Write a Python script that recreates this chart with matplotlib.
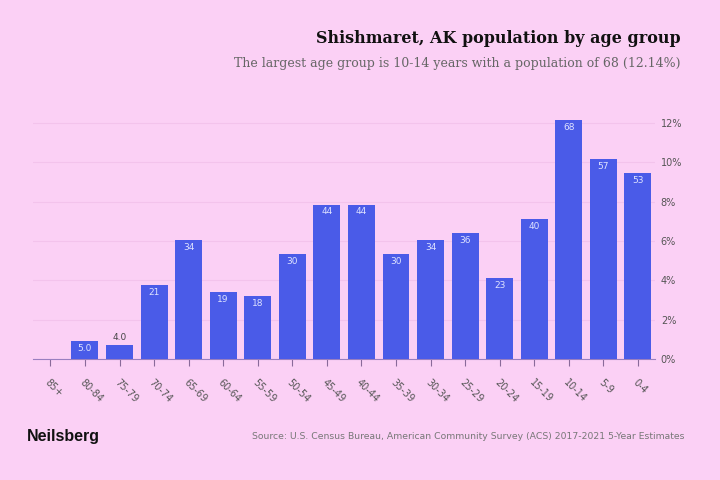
import matplotlib.pyplot as plt

# age groups, drawn right-to-left like the reference
age_groups = ['0-4', '5-9', '10-14', '15-19', '20-24', '25-29', '30-34', '35-39',
              '40-44', '45-49', '50-54', '55-59', '60-64', '65-69', '70-74',
              '75-79', '80-84', '85+']
population = [53, 57, 68, 40, 23, 36, 34, 30, 44, 44, 30, 18, 19, 34, 21, 4, 5, 0]
value_labels = ['53', '57', '68', '40', '23', '36', '34', '30', '44', '44', '30',
                '18', '19', '34', '21', '4.0', '5.0', '']
y_ticks = [0, 2, 4, 6, 8, 10, 12]

bg = '#fbd0f5'
bar_color = '#4a5be8'

total = sum(population)
share = [p / total * 100 for p in population]

fig = plt.figure(figsize=(7.2, 4.8), dpi=100, facecolor=bg)
ax = fig.add_axes([0.046, 0.252, 0.864, 0.508], facecolor=bg)

n = len(age_groups)
xs = [n - 1 - i for i in range(n)]  # 0-4 at the right end
ax.bar(xs, share, width=0.78, color=bar_color, zorder=3)

for x, s, lab in zip(xs, share, value_labels):
    if not lab:
        continue
    if s > 0.8:
        ax.text(x, s - 0.15, lab, ha='center', va='top', fontsize=6.5,
                color='#dfe3ff', zorder=4)
    else:
        ax.text(x, s + 0.15, lab, ha='center', va='bottom', fontsize=6.5,
                color='#444444', zorder=4)

ax.set_xlim(-0.5, n - 0.5)
ax.set_ylim(0, 12.4)
ax.yaxis.tick_right()
ax.set_yticks(y_ticks)
ax.set_yticklabels([f'{t}%' for t in y_ticks], fontsize=7, color='#555555')
ax.tick_params(axis='y', length=0, pad=4)
ax.set_xticks(xs)
ax.set_xticklabels(age_groups, rotation=-45, ha='left', rotation_mode='anchor',
                   fontsize=7, color='#555555')
ax.tick_params(axis='x', length=5, color='#8a6a9a', pad=8)
ax.grid(axis='y', color='#f3c3ec', linewidth=0.8, zorder=0)
for side in ['top', 'left', 'right']:
    ax.spines[side].set_visible(False)
ax.spines['bottom'].set_color('#9a7fc0')

fig.text(0.945, 0.92, 'Shishmaret, AK population by age group', ha='right',
         va='center', fontsize=11.5, fontweight='bold', family='DejaVu Serif',
         color='#111111')
fig.text(0.945, 0.868, 'The largest age group is 10-14 years with a population of 68 (12.14%)',
         ha='right', va='center', fontsize=9, family='DejaVu Serif', color='#666666')
fig.text(0.038, 0.09, 'Neilsberg', ha='left', va='center', fontsize=11.5,
         fontweight='bold', family='Liberation Sans', color='#111111')
fig.text(0.95, 0.09,
         'Source: U.S. Census Bureau, American Community Survey (ACS) 2017-2021 5-Year Estimates',
         ha='right', va='center', fontsize=6.7, color='#777777')

fig.savefig('out.png', dpi=100, facecolor=bg)
